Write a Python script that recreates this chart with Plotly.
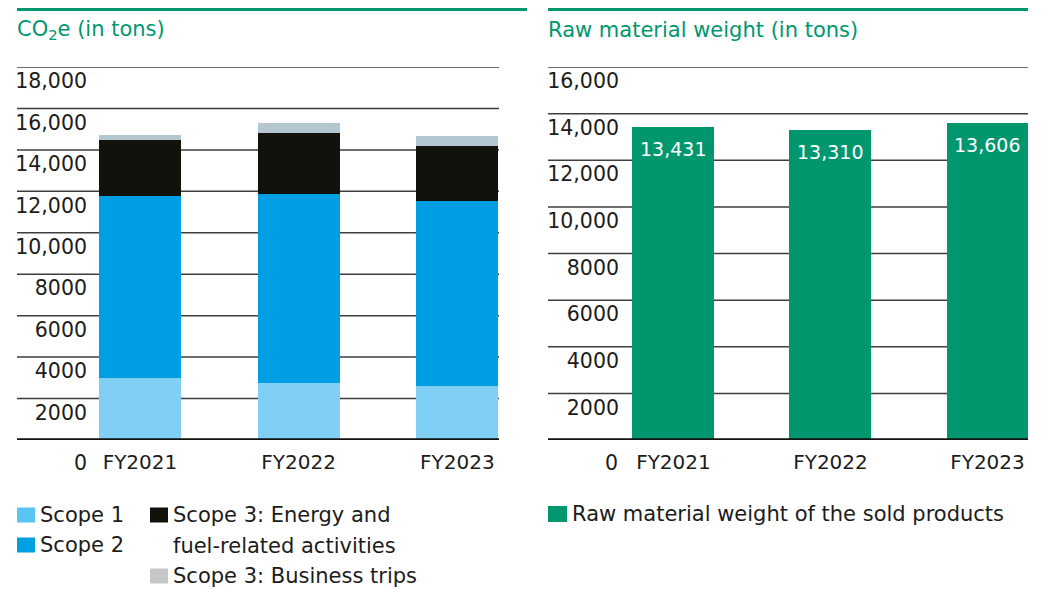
import plotly.graph_objects as go

W, H = 1051, 589
OFF = 8  # page body margin offset of the rendered figure

# ---------------- data ----------------
years = ["FY2021", "FY2022", "FY2023"]
scope1 = [3000, 2750, 2620]
scope2 = [8780, 9120, 8910]
scope3_energy = [2700, 2940, 2650]
scope3_trips = [240, 480, 480]
co2_names = ["Scope 1", "Scope 2", "Scope 3: Energy and<br>fuel-related activities", "Scope 3: Business trips"]
co2_ticks = [2000, 4000, 6000, 8000, 10000, 12000, 14000, 16000, 18000]

raw_weight = [13431, 13310, 13606]
raw_name = "Raw material weight of the sold products"
raw_ticks = [2000, 4000, 6000, 8000, 10000, 12000, 14000, 16000]

# ---------------- style ----------------
FONT = "DejaVu Sans"
TXT = "#1c1c1a"
GREEN = "#00976F"
bar_colors = ["#80CFF4", "#009FE3", "#12120D", "#B4C6D0"]
legend_colors = ["#5BC5F1", "#00A0E3", "#12120D", "#C6C6C5"]
GRID = "#3e3e3c"


def px_x(p):
    return (p - OFF) / W


def px_y(p):
    return (H - (p - OFF)) / H


def fmt(v):
    return f"{v:,}" if v >= 10000 else str(v)


fig = go.Figure()

co2_series = [scope1, scope2, scope3_energy, scope3_trips]
for name, vals, col in zip(co2_names, co2_series, bar_colors):
    fig.add_trace(go.Bar(x=years, y=vals, name=name, marker=dict(color=col, line=dict(width=0)),
                         width=0.517, xaxis="x", yaxis="y", showlegend=False, hoverinfo="skip"))

fig.add_trace(go.Bar(x=years, y=raw_weight, name=raw_name, marker=dict(color=GREEN, line=dict(width=0)),
                     width=0.522, xaxis="x2", yaxis="y2", showlegend=False, hoverinfo="skip"))

ydom = [px_y(440), px_y(67)]
axis_font = dict(family=FONT, size=20.5, color=TXT)
xtick_font = dict(family=FONT, size=20, color=TXT)

fig.update_layout(
    width=W, height=H,
    margin=dict(l=0, r=0, t=0, b=0, pad=0, autoexpand=False),
    paper_bgcolor="white", plot_bgcolor="white",
    barmode="stack",
    showlegend=False,
    xaxis=dict(domain=[px_x(92), px_x(499)], range=[-0.302, 2.262], showgrid=False, zeroline=False,
               showline=False, ticks="", tickfont=xtick_font, ticklabelstandoff=8, automargin=False),
    yaxis=dict(domain=ydom, range=[0, 18000], showgrid=False, zeroline=False, showline=False,
               tickvals=co2_ticks, ticktext=[fmt(v) for v in co2_ticks], ticks="",
               tickfont=axis_font, ticklabelshift=14, ticklabelstandoff=4, automargin=False),
    xaxis2=dict(domain=[px_x(624), px_x(1028)], range=[-0.315, 2.258], showgrid=False, zeroline=False,
                showline=False, ticks="", tickfont=xtick_font, ticklabelstandoff=8, anchor="y2",
                automargin=False),
    yaxis2=dict(domain=ydom, range=[0, 16000], showgrid=False, zeroline=False, showline=False,
                tickvals=raw_ticks, ticktext=[fmt(v) for v in raw_ticks], ticks="",
                tickfont=axis_font, ticklabelshift=14, ticklabelstandoff=4, anchor="x2",
                automargin=False),
)

shapes = []
annotations = []

# gridlines and baselines
for yref, ticks, x0, x1 in [("y", co2_ticks, 17, 499), ("y2", raw_ticks, 548, 1028)]:
    for v in ticks:
        shapes.append(dict(type="line", xref="paper", yref=yref, x0=px_x(x0), x1=px_x(x1), y0=v, y1=v,
                           line=dict(color=GRID, width=1.5), layer="below"))
    shapes.append(dict(type="line", xref="paper", yref=yref, x0=px_x(x0), x1=px_x(x1), y0=0, y1=0,
                       line=dict(color="#121210", width=3.5), layer="above"))
    annotations.append(dict(text="0", xref="paper", yref="paper", x=px_x(x0 + 72), y=px_y(462.5),
                            xanchor="right", yanchor="middle", showarrow=False, font=axis_font))

# green top rules
for x0, x1 in [(17, 527), (548, 1028)]:
    shapes.append(dict(type="rect", xref="paper", yref="paper", x0=px_x(x0), x1=px_x(x1),
                       y0=px_y(11), y1=px_y(5), fillcolor=GREEN, line=dict(width=0)))

# titles
title_font = dict(family=FONT, size=21, color=GREEN)
annotations.append(dict(text="CO<sub>2</sub>e (in tons)", xref="paper", yref="paper", x=px_x(15), y=px_y(30),
                        xanchor="left", yanchor="middle", showarrow=False, font=title_font))
annotations.append(dict(text="Raw material weight (in tons)", xref="paper", yref="paper", x=px_x(546), y=px_y(30),
                        xanchor="left", yanchor="middle", showarrow=False, font=title_font))

# bar value labels
for yr, v in zip(years, raw_weight):
    annotations.append(dict(text=f"{v:,}", xref="x2", yref="y2", x=yr, y=v, yshift=-22,
                            xanchor="center", yanchor="middle", showarrow=False,
                            font=dict(family=FONT, size=19, color="white")))

# custom legends
leg_font = dict(family=FONT, size=21, color=TXT)
leg_items = [  # (name index, swatch x, row center y)
    (0, 17, 515), (1, 17, 545), (2, 150, 515), (3, 150, 576)
]
for idx, sx, cy in leg_items:
    shapes.append(dict(type="rect", xref="paper", yref="paper", x0=px_x(sx), x1=px_x(sx + 18),
                       y0=px_y(cy + 7.5), y1=px_y(cy - 7.5), fillcolor=legend_colors[idx], line=dict(width=0)))
    for k, line in enumerate(co2_names[idx].split("<br>")):
        annotations.append(dict(text=line, xref="paper", yref="paper", x=px_x(sx + 21), y=px_y(cy + 30.5 * k),
                                xanchor="left", yanchor="middle", showarrow=False, font=leg_font))

shapes.append(dict(type="rect", xref="paper", yref="paper", x0=px_x(548), x1=px_x(567),
                   y0=px_y(522), y1=px_y(506), fillcolor=GREEN, line=dict(width=0)))
annotations.append(dict(text=raw_name, xref="paper", yref="paper", x=px_x(570), y=px_y(514),
                        xanchor="left", yanchor="middle", showarrow=False, font=leg_font))

fig.update_layout(shapes=shapes, annotations=annotations)
fig.write_html("out.html")
